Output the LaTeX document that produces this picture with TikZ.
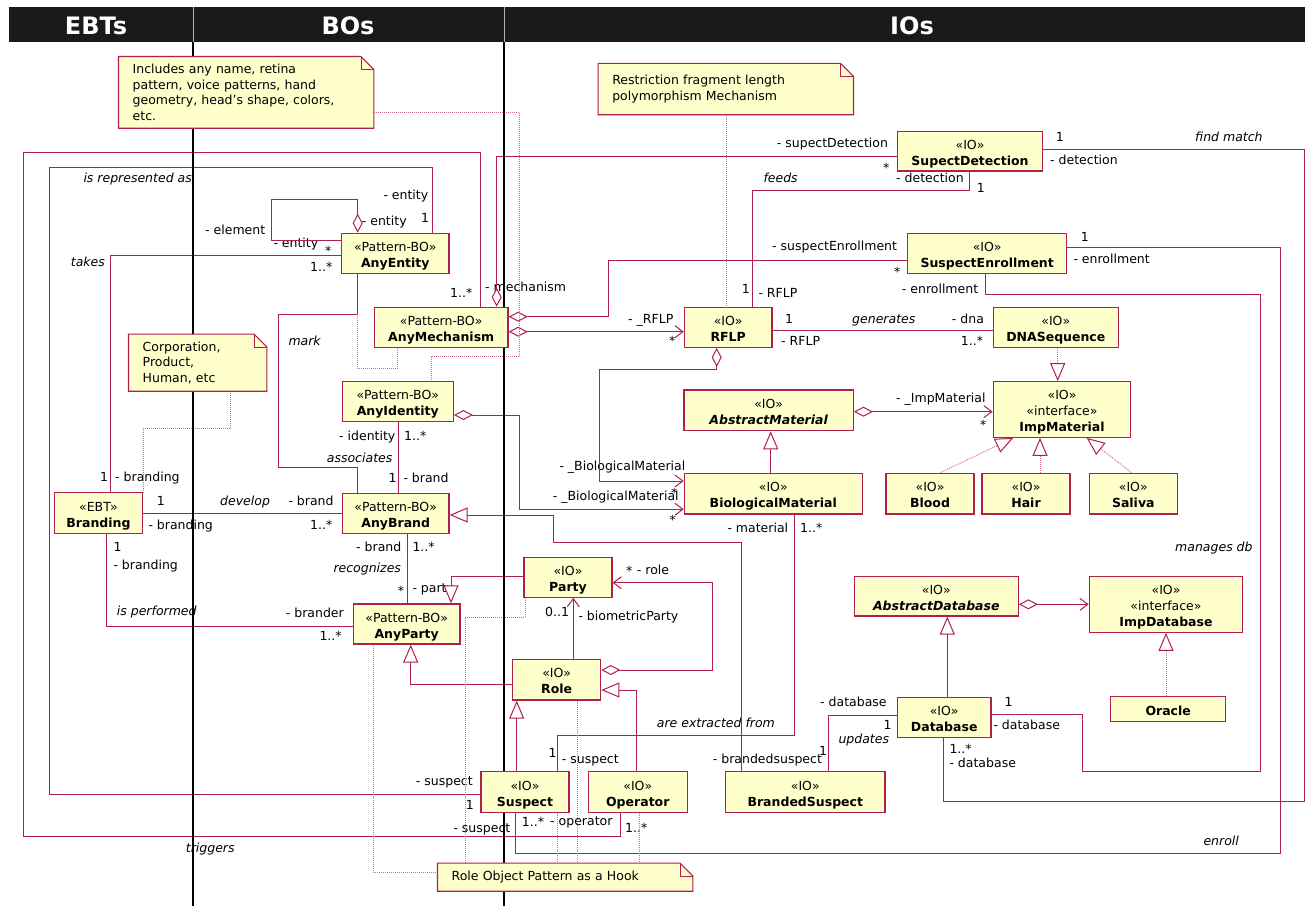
\documentclass[tikz,border=0pt]{standalone}
\usepackage{fontspec}
\setmainfont{DejaVu Sans}
\usetikzlibrary{arrows.meta}
\definecolor{umlred}{HTML}{B01F4E}
\definecolor{boxfill}{HTML}{FFFFCC}
\definecolor{dotc}{HTML}{D46A8C}
\definecolor{hdrc}{HTML}{1A1A1A}
\pgfdeclarelayer{labels}
\pgfdeclarelayer{conn}
\pgfdeclarelayer{mid}
\pgfdeclarelayer{notes}
\pgfsetlayers{labels,conn,mid,notes,main}
\newcommand\upstrut{\rule{0pt}{12pt}}
\newcommand\lfont{\fontsize{12.5}{15.6}\selectfont}
\newcommand\noteoutline[1]{%
\begin{pgfonlayer}{notes}
\filldraw[noteline] (#1.north west) -- ([xshift=-13pt]#1.north east) -- ([yshift=-13pt]#1.north east) -- (#1.south east) -- (#1.south west) -- cycle;
\draw[noteline, fill=none, line width=0.7pt] ([xshift=-13pt]#1.north east) -- ([xshift=-13pt,yshift=-13pt]#1.north east) -- ([yshift=-13pt]#1.north east);
\end{pgfonlayer}}
\begin{document}
\begin{tikzpicture}[x=1pt,y=-1pt,
  cls/.style={draw=umlred, line width=1.2pt, fill=boxfill, inner sep=0pt, align=center, font=\fontsize{12.5}{16}\selectfont, text=black},
  notebox/.style={inner xsep=14pt, inner ysep=0pt, align=left, font=\fontsize{12.5}{15.6}\selectfont, text=black},
  noteline/.style={draw=umlred, line width=1.1pt, fill=boxfill},
  lb/.style={anchor=mid west, inner sep=0pt, font=\lfont, text=black},
  lbi/.style={lb, font=\lfont\itshape},
  assoc/.style={draw=umlred, line width=1pt},
  agg/.style={assoc, {Diamond[fill=white,length=19pt,width=10pt]}-},
  aggnav/.style={assoc, {Diamond[fill=white,length=19pt,width=10pt]}-{Straight Barb[length=8pt,width=12pt]}},
  nav/.style={assoc, -{Straight Barb[length=8pt,width=12pt]}},
  gen/.style={assoc, -{Triangle[fill=white,length=18pt,width=15pt]}},
  real/.style={draw=dotc, line width=0.9pt, dash pattern=on 1pt off 1pt, -{Triangle[color=umlred,fill=white,line width=1pt,length=18pt,width=15pt]}},
  dotl/.style={draw=dotc, line width=0.9pt, dash pattern=on 1pt off 1pt},
  hdr/.style={inner sep=0pt, text=white, font=\fontsize{24}{28}\selectfont\bfseries}
]
\useasboundingbox (0,0) rectangle (1305,906);
\begin{pgfonlayer}{labels}
\fill[white] (0,0) rectangle (1305,906);
\end{pgfonlayer}

% ---------- classes ----------
\node[cls, minimum width=88.4pt, minimum height=40.6pt] (Branding) at (98.5,513) {\upstrut«EBT»\\\smash{\textbf{Branding}}};
\node[cls, minimum width=107.3pt, minimum height=40pt] (AnyEntity) at (395.3,253.3) {\upstrut«Pattern-BO»\\\smash{\textbf{AnyEntity}}};
\node[cls, minimum width=133.7pt, minimum height=40pt] (AnyMechanism) at (441.2,327.3) {\upstrut«Pattern-BO»\\\smash{\textbf{AnyMechanism}}};
\node[cls, minimum width=111pt, minimum height=40pt] (AnyIdentity) at (397.8,401.7) {\upstrut«Pattern-BO»\\\smash{\textbf{AnyIdentity}}};
\node[cls, minimum width=106.7pt, minimum height=40pt] (AnyBrand) at (395.7,513.3) {\upstrut«Pattern-BO»\\\smash{\textbf{AnyBrand}}};
\node[cls, minimum width=106.7pt, minimum height=40pt] (AnyParty) at (406.7,624) {\upstrut«Pattern-BO»\\\smash{\textbf{AnyParty}}};
\node[cls, minimum width=88pt, minimum height=40pt] (Party) at (568,577.3) {\upstrut«IO»\\\smash{\textbf{Party}}};
\node[cls, minimum width=88pt, minimum height=40.7pt] (Role) at (556.7,679.7) {\upstrut«IO»\\\smash{\textbf{Role}}};
\node[cls, minimum width=88pt, minimum height=40.6pt] (Suspect) at (525,792) {\upstrut«IO»\\\smash{\textbf{Suspect}}};
\node[cls, minimum width=99pt, minimum height=40.6pt] (Operator) at (637.8,792) {\upstrut«IO»\\\smash{\textbf{Operator}}};
\node[cls, minimum width=159.3pt, minimum height=40.6pt] (BrandedSuspect) at (805.3,792) {\upstrut«IO»\\\smash{\textbf{BrandedSuspect}}};
\node[cls, minimum width=87.7pt, minimum height=40pt] (RFLP) at (728.2,327.3) {\upstrut«IO»\\\smash{\textbf{RFLP}}};
\node[cls, minimum width=145.4pt, minimum height=39.3pt] (SupectDetection) at (970,151.3) {\upstrut«IO»\\\smash{\textbf{SupectDetection}}};
\node[cls, minimum width=159pt, minimum height=40pt] (SuspectEnrollment) at (987.2,253.3) {\upstrut«IO»\\\smash{\textbf{SuspectEnrollment}}};
\node[cls, minimum width=125pt, minimum height=40pt] (DNASequence) at (1055.8,327.3) {\upstrut«IO»\\\smash{\textbf{DNASequence}}};
\node[cls, minimum width=169.3pt, minimum height=40.7pt] (AbstractMaterial) at (768.7,410.3) {\upstrut«IO»\\\smash{\textbf{\textit{AbstractMaterial}}}};
\node[cls, minimum width=137.4pt, minimum height=55.6pt] (ImpMaterial) at (1062,409.5) {\upstrut«IO»\\«interface»\\\smash{\textbf{ImpMaterial}}};
\node[cls, minimum width=178pt, minimum height=40.7pt] (BiologicalMaterial) at (773.3,493.7) {\upstrut«IO»\\\smash{\textbf{BiologicalMaterial}}};
\node[cls, minimum width=88pt, minimum height=40.7pt] (Blood) at (930,493.7) {\upstrut«IO»\\\smash{\textbf{Blood}}};
\node[cls, minimum width=88pt, minimum height=40.7pt] (Hair) at (1026,493.7) {\upstrut«IO»\\\smash{\textbf{Hair}}};
\node[cls, minimum width=88pt, minimum height=40.7pt] (Saliva) at (1133.3,493.7) {\upstrut«IO»\\\smash{\textbf{Saliva}}};
\node[cls, minimum width=164pt, minimum height=39.3pt] (AbstractDatabase) at (936.3,596.3) {\upstrut«IO»\\\smash{\textbf{\textit{AbstractDatabase}}}};
\node[cls, minimum width=153.4pt, minimum height=55.6pt] (ImpDatabase) at (1166,604.5) {\upstrut«IO»\\«interface»\\\smash{\textbf{ImpDatabase}}};
\node[cls, minimum width=93.7pt, minimum height=40pt] (Database) at (944.2,717.3) {\upstrut«IO»\\\smash{\textbf{Database}}};
\node[cls, minimum width=115pt, minimum height=25pt] (Oracle) at (1168.2,709.2) {\upstrut\textbf{Oracle}};

% ---------- notes ----------
\node[notebox, minimum width=255pt, minimum height=71.3pt, text width=227pt] (N1) at (246.2,92.35) {Includes any name, retina\\pattern, voice patterns, hand\\geometry, head's shape, colors,\\etc.};
\noteoutline{N1}
\node[notebox, minimum width=138pt, minimum height=56.7pt, text width=110pt] (N2) at (197.7,362.65) {Corporation,\\Product,\\Human, etc};
\noteoutline{N2}
\node[notebox, minimum width=255pt, minimum height=51pt, text width=227pt] (N3) at (725.8,89) {Restriction fragment length\\polymorphism Mechanism};
\noteoutline{N3}
\node[notebox, minimum width=255pt, minimum height=27.7pt, text width=227pt] (N4) at (565.2,877.15) {Role Object Pattern as a Hook};
\noteoutline{N4}

% ---------- header ----------
\fill[hdrc] (9,7.3) rectangle (1305,41.7);
\draw[gray!60, line width=0.8pt] (193,7.3) -- (193,41.7) (504,7.3) -- (504,41.7);
\node[hdr] (hEBT) at (96,26) {EBTs};
\node[hdr] (hBO) at (348,26) {BOs};
\node[hdr] (hIO) at (912,26) {IOs};

% ---------- labels ----------
\begin{pgfonlayer}{labels}
\node[lb] at (383.3,196.7) {- entity};
\node[lb] at (361.7,222.7) {- entity};
\node[lb] at (421,220) {1};
\node[lb] at (205,231.7) {- element};
\node[lb] at (273.3,245) {- entity};
\node[lb] at (325,253) {*};
\node[lb] at (310,268.3) {1..*};
\node[lbi] at (70.7,263.3) {takes};
\node[lbi] at (83.3,180) {is represented as};
\node[lb] at (100,478.3) {1};
\node[lb] at (115,478.3) {- branding};
\node[lb] at (450,294.3) {1..*};
\node[lb] at (485,289) {- mechanism};
\node[lb] at (776.7,145) {- supectDetection};
\node[lb] at (883,170) {*};
\node[lbi] at (763.3,179.3) {feeds};
\node[lb] at (896,180) {- detection};
\node[lb] at (976.7,190) {1};
\node[lb] at (1055.7,138.3) {1};
\node[lb] at (1050,161.7) {- detection};
\node[lbi] at (1195,138.3) {find match};
\node[lb] at (772,248) {- suspectEnrollment};
\node[lb] at (894,274) {*};
\node[lb] at (1080.7,238.3) {1};
\node[lb] at (1073.3,260.7) {- enrollment};
\node[lb] at (901.7,290.7) {- enrollment};
\node[lb] at (741.7,291) {1};
\node[lb] at (758.3,294.3) {- RFLP};
\node[lb] at (628,320.7) {- \_RFLP};
\node[lb] at (669,343) {*};
\node[lb] at (785,320.7) {1};
\node[lb] at (781,342.7) {- RFLP};
\node[lbi] at (852,321) {generates};
\node[lb] at (951.7,320.7) {- dna};
\node[lb] at (960.7,342.7) {1..*};
\node[lbi] at (288.3,342.3) {mark};
\node[lb] at (559.3,468) {- \_BiologicalMaterial};
\node[lb] at (671,495) {*};
\node[lb] at (552.7,497.3) {- \_BiologicalMaterial};
\node[lb] at (669.3,522) {*};
\node[lb] at (896,400) {- \_ImpMaterial};
\node[lb] at (980,427) {*};
\node[lb] at (339,437.3) {- identity};
\node[lb] at (404,437.3) {1..*};
\node[lbi] at (326.7,460) {associates};
\node[lb] at (388.3,479.3) {1};
\node[lb] at (403.3,479.3) {- brand};
\node[lb] at (156.7,502.7) {1};
\node[lbi] at (220,502.7) {develop};
\node[lb] at (288.3,502.7) {- brand};
\node[lb] at (148.3,526.7) {- branding};
\node[lb] at (310,526.7) {1..*};
\node[lb] at (113.3,548.3) {1};
\node[lb] at (113.3,566.7) {- branding};
\node[lb] at (356,548.3) {- brand};
\node[lb] at (412.3,548.3) {1..*};
\node[lbi] at (333.3,570) {recognizes};
\node[lb] at (397.7,593) {*};
\node[lb] at (412.3,590) {- party};
\node[lbi] at (116.7,612.7) {is performed};
\node[lb] at (285.7,615) {- brander};
\node[lb] at (319.3,637.3) {1..*};
\node[lb] at (727.3,530) {- material};
\node[lb] at (800,530) {1..*};
\node[lb] at (626,573) {*};
\node[lb] at (636.7,571.7) {- role};
\node[lb] at (545,614) {0..1};
\node[lb] at (578.3,617.7) {- biometricParty};
\node[lbi] at (656.7,725) {are extracted from};
\node[lb] at (548.3,755) {1};
\node[lb] at (561.7,760.7) {- suspect};
\node[lb] at (712.7,760.7) {- brandedsuspect};
\node[lb] at (819,752.5) {1};
\node[lb] at (820,703.3) {- database};
\node[lb] at (883.3,726.7) {1};
\node[lbi] at (838.3,741) {updates};
\node[lb] at (1004.3,703.3) {1};
\node[lb] at (993.3,726.7) {- database};
\node[lb] at (949.3,750.7) {1..*};
\node[lb] at (949.3,764.3) {- database};
\node[lbi] at (1175,548.3) {manages db};
\node[lbi] at (1203.3,842.3) {enroll};
\node[lb] at (415.7,782.7) {- suspect};
\node[lb] at (465.7,806.7) {1};
\node[lb] at (453.3,829.3) {- suspect};
\node[lb] at (521.7,824) {1..*};
\node[lb] at (550,822.7) {- operator};
\node[lb] at (625,830) {1..*};
\node[lbi] at (185.7,850) {triggers};
\end{pgfonlayer}

% ---------- connectors ----------
\begin{pgfonlayer}{conn}
\coordinate (markbend) at (357.3,314.3);
\draw[assoc] (432.3,0 |- AnyEntity.north) -- (432.3,167.7) -- (49,167.7) -- (49,794) -- (Suspect.west |- 0,794);
\draw[assoc] (480,0 |- AnyMechanism.north) -- (480,152) -- (23.7,152) -- (23.7,836.7) -- (620,836.7) -- (620,0 |- Operator.south);
\draw[agg] (357.7,0 |- AnyEntity.north) -- (357.7,199) -- (271,199) -- (271,240.7) -- (AnyEntity.west |- 0,240.7);
\draw[assoc] (AnyEntity.west |- 0,255.7) -- (110.7,255.7) -- (110.7,0 |- Branding.north);
\draw[assoc] (357.3,0 |- AnyEntity.south) -- (markbend) -- (278.7,314.3) -- (278.7,467.7) -- (357.3,467.7) -- (357.3,0 |- AnyBrand.north);
\draw[assoc] (398,0 |- AnyIdentity.south) -- (398,0 |- AnyBrand.north);
\draw[assoc] (Branding.east |- 0,513.3) -- (AnyBrand.west |- 0,513.3);
\draw[assoc] (106.7,0 |- Branding.south) -- (106.7,626) -- (AnyParty.west |- 0,626);
\draw[assoc] (407.7,0 |- AnyBrand.south) -- (407.7,0 |- AnyParty.north);
\draw[agg] (496.7,0 |- AnyMechanism.north) -- (496.7,156.7) -- (SupectDetection.west |- 0,156.7);
\draw[agg] (AnyMechanism.east |- 0,316.7) -- (608.3,316.7) -- (608.3,260.7) -- (SuspectEnrollment.west |- 0,260.7);
\draw[aggnav] (AnyMechanism.east |- 0,331.7) -- (RFLP.west |- 0,331.7);
\draw[aggnav] (716.7,0 |- RFLP.south) -- (716.7,369) -- (599.3,369) -- (599.3,481) -- (BiologicalMaterial.west |- 0,481);
\draw[aggnav] (AnyIdentity.east |- 0,415) -- (519.3,415) -- (519.3,509.3) -- (BiologicalMaterial.west |- 0,509.3);
\draw[gen] (770.7,0 |- BiologicalMaterial.north) -- (770.7,0 |- AbstractMaterial.south);
\draw[aggnav] (AbstractMaterial.east |- 0,411.7) -- (ImpMaterial.west |- 0,411.7);
\draw[real] (1057.7,0 |- DNASequence.south) -- (1057.7,0 |- ImpMaterial.north);
\draw[real] (940,0 |- Blood.north) -- (1013.3,0 |- ImpMaterial.south);
\draw[real] (1040,0 |- Hair.north) -- (1040,0 |- ImpMaterial.south);
\draw[real] (1131.7,0 |- Saliva.north) -- (1086.7,0 |- ImpMaterial.south);
\draw[assoc] (RFLP.east |- 0,330.7) -- (DNASequence.west |- 0,330.7);
\draw[assoc] (969,0 |- SupectDetection.south) -- (969,190.7) -- (752.7,190.7) -- (752.7,0 |- RFLP.north);
\draw[assoc] (SupectDetection.east |- 0,149) -- (1304.3,149) -- (1304.3,801) -- (943.3,801) -- (943.3,0 |- Database.south);
\draw[assoc] (SuspectEnrollment.east |- 0,247.7) -- (1280,247.7) -- (1280,853.3) -- (515.7,853.3) -- (515.7,0 |- Suspect.south);
\draw[assoc] (985.3,0 |- SuspectEnrollment.south) -- (985.3,294) -- (1260,294) -- (1260,771) -- (1082.3,771) -- (1082.3,714.3) -- (Database.east |- 0,714.3);
\draw[gen] (947.3,0 |- Database.north) -- (947.3,0 |- AbstractDatabase.south);
\draw[aggnav] (AbstractDatabase.east |- 0,604.3) -- (ImpDatabase.west |- 0,604.3);
\draw[real] (1166,0 |- Oracle.north) -- (1166,0 |- ImpDatabase.south);
\draw[assoc] (Database.west |- 0,715.7) -- (828.3,715.7) -- (828.3,0 |- BrandedSuspect.north);
\draw[gen] (741.7,0 |- BrandedSuspect.north) -- (741.7,542.3) -- (553.3,542.3) -- (553.3,515) -- (AnyBrand.east |- 0,515);
\draw[assoc] (794.3,0 |- BiologicalMaterial.south) -- (794.3,735.7) -- (557.3,735.7) -- (557.3,0 |- Suspect.north);
\draw[gen] (516.7,0 |- Suspect.north) -- (516.7,0 |- Role.south);
\draw[gen] (636.7,0 |- Operator.north) -- (636.7,690) -- (Role.east |- 0,690);
\draw[gen] (Role.west |- 0,684) -- (410.7,684) -- (410.7,0 |- AnyParty.south);
\draw[gen] (Party.west |- 0,576.7) -- (451,576.7) -- (451,0 |- AnyParty.north);
\draw[nav] (573.3,0 |- Role.north) -- (573.3,0 |- Party.south);
\draw[aggnav] (Role.east |- 0,670) -- (712.3,670) -- (712.3,582.7) -- (Party.east |- 0,582.7);
% dotted note / association-class links
\draw[dotl] (N1.east |- 0,112) -- (519.3,112) -- (519.3,356) -- (431.7,356) -- (431.7,0 |- AnyIdentity.north);
\draw[dotl] (397.3,0 |- AnyMechanism.south) -- (397.3,368.3) -- (357.3,368.3) -- (markbend);
\draw[dotl] (230.7,0 |- N2.south) -- (230.7,428.3) -- (143.3,428.3) -- (143.3,0 |- Branding.north);
\draw[dotl] (726.7,0 |- N3.south) -- (726.7,0 |- RFLP.north);
\draw[dotl] (N4.west |- 0,872.3) -- (373.3,872.3) -- (373.3,0 |- AnyParty.south);
\draw[dotl] (525,0 |- Party.south) -- (525,617.3) -- (465,617.3) -- (465,0 |- N4.north);
\draw[dotl] (577.7,0 |- Role.south) -- (577.7,0 |- N4.north);
\draw[dotl] (557.3,0 |- Suspect.south) -- (557.3,0 |- N4.north);
\draw[dotl] (639,0 |- Operator.south) -- (639,0 |- N4.north);
\end{pgfonlayer}

% ---------- swimlane dividers ----------
\begin{pgfonlayer}{mid}
\draw[black, line width=2.5pt] (193,41.7) -- (193,906);
\draw[black, line width=2.5pt] (504,41.7) -- (504,906);
\end{pgfonlayer}
\end{tikzpicture}
\end{document}
